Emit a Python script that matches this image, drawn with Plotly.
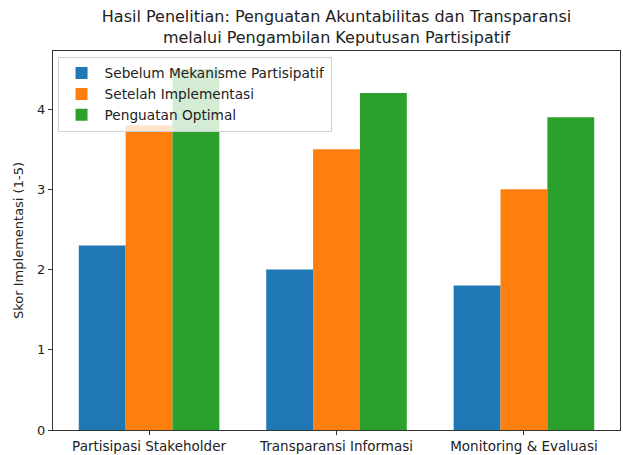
import plotly.graph_objects as go

categories = ["Partisipasi Stakeholder", "Transparansi Informasi", "Monitoring & Evaluasi"]
series_names = ["Sebelum Mekanisme Partisipatif", "Setelah Implementasi", "Penguatan Optimal"]
sebelum = [2.3, 2.0, 1.8]
setelah = [3.8, 3.5, 3.0]
optimal = [4.5, 4.2, 3.9]
colors = ["#1f77b4", "#ff7f0e", "#2ca02c"]
y_ticks = [0, 1, 2, 3, 4]

fig = go.Figure()
for name, vals, c in zip(series_names, [sebelum, setelah, optimal], colors):
    fig.add_trace(go.Bar(name=name, x=categories, y=vals, marker_color=c,
                         marker_line_width=0))

font = "DejaVu Sans"
fig.update_layout(
    width=623, height=455,
    margin=dict(l=53, r=3, t=51, b=25, autoexpand=False),
    paper_bgcolor="white", plot_bgcolor="white",
    font=dict(family=font, size=13, color="#222"),
    title=dict(text="Hasil Penelitian: Penguatan Akuntabilitas dan Transparansi<br>melalui Pengambilan Keputusan Partisipatif",
               x=(53 + 620) / 2 / 623, xanchor="center", y=0.952, yanchor="top",
               font=dict(size=16, family=font, color="#222")),
    barmode="group", bargap=0.25, bargroupgap=0,
    showlegend=True,
    legend=dict(x=0.008, y=0.985, xanchor="left", yanchor="top",
                bgcolor="rgba(255,255,255,0.8)", bordercolor="#d0d0d0", borderwidth=1,
                font=dict(size=13.7, family=font, color="#222"),
                tracegroupgap=0, itemwidth=36),
    xaxis=dict(range=[-0.5125, 2.5125], showline=True, mirror=True, linecolor="#333",
               linewidth=1, ticks="outside", ticklen=4, tickcolor="#333",
               showgrid=False, tickfont=dict(size=13.5)),
    yaxis=dict(range=[0, 4.725], tickvals=y_ticks, showline=True, mirror=True,
               linecolor="#333", linewidth=1, ticks="outside", ticklen=4,
               tickcolor="#333", showgrid=False, zeroline=False,
               title=dict(text="Skor Implementasi (1-5)", standoff=10, font=dict(size=13)),
               tickfont=dict(size=13)),
)
fig.write_html("out.html", config={"displayModeBar": False},
               post_script="document.body.style.margin='0';document.body.style.overflow='hidden';")
